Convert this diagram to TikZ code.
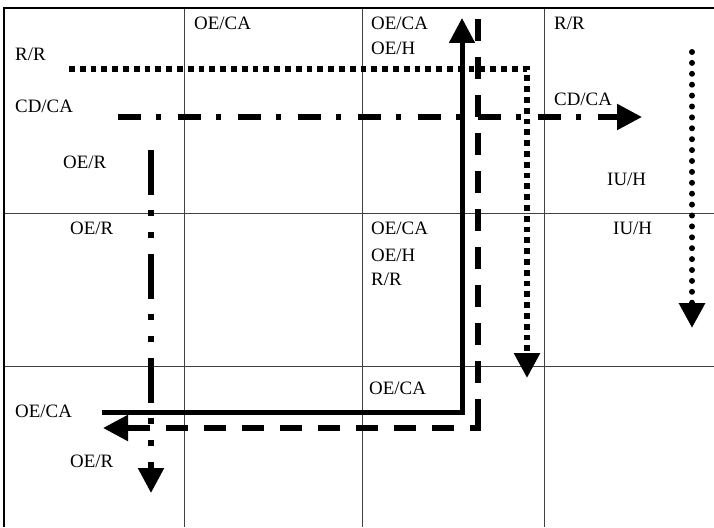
\documentclass[tikz,border=0pt]{standalone}
\usepackage{fontspec}
\setmainfont{Liberation Serif}
\usetikzlibrary{arrows.meta}
\begin{document}
\begin{tikzpicture}[x=1pt,y=-1pt,
  lbl/.style={anchor=base west,inner sep=0pt,font=\fontsize{18.9}{20}\selectfont},
  outerline/.style={line width=1.3pt,black},
  innerline/.style={line width=0.9pt,black!75},
  flow/.style={line width=5pt,black},
  tipped/.style={-{Triangle[length=25pt,width=25pt]}},
  sqdots/.style={flow,line width=5.8pt,dash pattern=on 5.8pt off 5pt},
  dashdot/.style={flow,line width=5.3pt,dash pattern=on 23pt off 15pt on 5pt off 17pt},
  dashdotdot/.style={flow,line width=5.3pt,dash pattern=on 45pt off 15pt on 6pt off 16pt on 6pt off 16pt},
  longdash/.style={flow,line width=5.3pt,dash pattern=on 22pt off 16pt},
  rounddots/.style={flow,line width=6pt,line cap=round,dash pattern=on 0pt off 10.9pt},
]
\useasboundingbox (0,0) rectangle (714,527);
% grid
\draw[innerline] (184,8) -- (184,527);
\draw[innerline] (362,8) -- (362,527);
\draw[innerline] (544,8) -- (544,527);
\draw[innerline] (4,213) -- (714,213);
\draw[innerline] (4,366) -- (714,366);
\draw[outerline] (4,527) -- (4,8) -- (714,8);

% labels
\node[lbl] (t1) at (194,30) {OE/CA};
\node[lbl] (t2) at (15,60) {R/R};
\node[lbl] (t3) at (15,112) {CD/CA};
\node[lbl] (t4) at (63,168) {OE/R};
\node[lbl] (t5) at (371,30) {OE/CA};
\node[lbl] (t6) at (371,55) {OE/H};
\node[lbl] (t7) at (554,30) {R/R};
\node[lbl] (t8) at (554,105) {CD/CA};
\node[lbl] (t9) at (607,185) {IU/H};
\node[lbl] (t10) at (70,234) {OE/R};
\node[lbl] (t11) at (371,234) {OE/CA};
\node[lbl] (t12) at (371,261) {OE/H};
\node[lbl] (t13) at (371,285) {R/R};
\node[lbl] (t14) at (613,234) {IU/H};
\node[lbl] (t15) at (369,394) {OE/CA};
\node[lbl] (t16) at (15,417) {OE/CA};
\node[lbl] (t17) at (70,467) {OE/R};

% flow coordinates
\coordinate (rrS) at (69,69);
\coordinate (rrC) at (527,69);
\coordinate (rrE) at (527,378);
\coordinate (cdS) at (118,117);
\coordinate (cdE) at (642,117);
\coordinate (soS) at (102,412);
\coordinate (soC) at (462,412);
\coordinate (soE) at (462,18);
\coordinate (daS) at (478,19);
\coordinate (daV) at (478,399);
\coordinate (daC) at (478,428);
\coordinate (daH) at (470,428);
\coordinate (daE) at (103,428);
\coordinate (orS) at (151,150);
\coordinate (orE) at (151,493);
\coordinate (iuS) at (692,52);
\coordinate (iuE) at (692,328);

% flows
\draw[sqdots,tipped] (rrS) -- (rrC) -- (rrE);
\draw[rounddots,tipped] (iuS) -- (iuE);
\draw[dashdotdot,tipped] (orS) -- (orE);
\draw[dashdot,tipped] (cdS) -- (cdE);
\draw[flow,tipped] (soS) -- (soC) -- (soE);
\draw[longdash] (daS) -- (daV);
\draw[flow,line width=5.3pt] (daV) -- (daC) -- (daH);
\draw[longdash,dash phase=22pt,tipped] (daH) -- (daE);
\end{tikzpicture}
\end{document}
